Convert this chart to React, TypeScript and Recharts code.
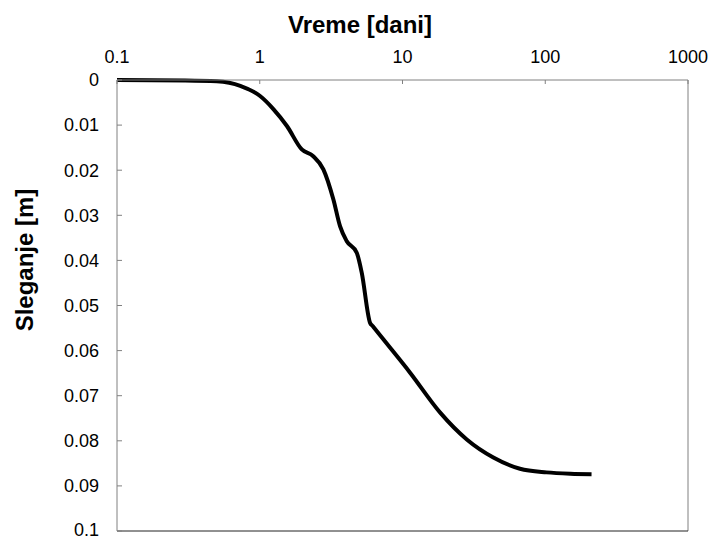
import { LineChart, Line, XAxis, YAxis, ReferenceLine } from 'recharts';

// Vreme [dani] vs Sleganje [m]
const timeDays = [0.1, 0.3, 0.5, 0.73, 1.0, 1.25, 1.55, 1.97, 2.37, 2.79, 3.28, 3.65, 4.06, 4.78, 5.18, 5.92, 6.2, 7.34, 11.3, 18.3, 28.2, 43.3, 66.5, 102, 150, 211];
const settlement = [0, 0.0001, 0.0003, 0.0013, 0.0035, 0.0065, 0.0102, 0.0154, 0.0169, 0.0198, 0.0265, 0.0324, 0.0357, 0.0383, 0.0427, 0.0538, 0.0546, 0.0575, 0.0649, 0.0737, 0.0797, 0.0837, 0.0862, 0.087, 0.0873, 0.0874];

const xTicks = [0.1, 1, 10, 100, 1000];
const yTicks = [0, 0.01, 0.02, 0.03, 0.04, 0.05, 0.06, 0.07, 0.08, 0.09, 0.1];

const data = timeDays.map((t, i) => ({ t, s: settlement[i] }));

const FONT = '"Liberation Sans", Arial, Helvetica, sans-serif';
const AXIS_GRAY = '#808080';

export default function App() {
  return (
    <div style={{ position: 'absolute', left: 0, top: 0, width: 713, height: 540, background: '#fff', fontFamily: FONT }}>
      <LineChart width={713} height={540} data={data} margin={{ top: 40, right: 25, bottom: 9, left: 57 }}>
        <XAxis
          dataKey="t"
          type="number"
          scale="log"
          domain={[0.1, 1000]}
          ticks={xTicks}
          orientation="top"
          height={40}
          allowDataOverflow
          stroke={AXIS_GRAY}
          tickSize={-4}
          tickMargin={21}
          tick={{ fill: '#000', fontSize: 18, fontFamily: FONT }}
        />
        <YAxis
          type="number"
          domain={[0, 0.1]}
          ticks={yTicks}
          reversed
          width={60}
          stroke={AXIS_GRAY}
          tickSize={-5}
          tickMargin={23}
          tick={{ fill: '#000', fontSize: 18, fontFamily: FONT }}
        />
        <ReferenceLine x={1000} stroke={AXIS_GRAY} />
        <ReferenceLine y={0.1} stroke="#222" />
        <Line
          dataKey="s"
          type="monotone"
          stroke="#000"
          strokeWidth={4}
          dot={false}
          isAnimationActive={false}
        />
      </LineChart>
      <div style={{ position: 'absolute', left: 360, top: 25, transform: 'translate(-50%, -50%)', fontSize: 24, fontWeight: 'bold', lineHeight: 1, whiteSpace: 'nowrap' }}>
        Vreme [dani]
      </div>
      <div style={{ position: 'absolute', left: 25, top: 260, transform: 'translate(-50%, -50%) rotate(-90deg)', fontSize: 24, fontWeight: 'bold', lineHeight: 1, whiteSpace: 'nowrap' }}>
        Sleganje [m]
      </div>
    </div>
  );
}
